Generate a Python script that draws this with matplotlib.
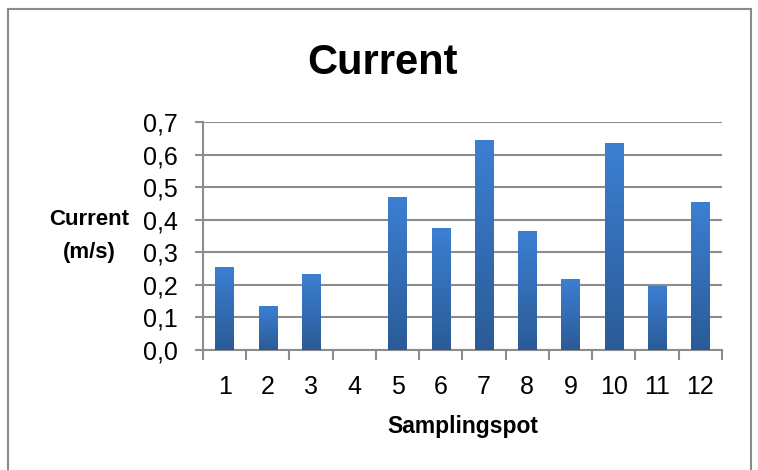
import numpy as np
import matplotlib.pyplot as plt
from matplotlib.patches import Rectangle
from matplotlib.colors import LinearSegmentedColormap
from matplotlib.ticker import FixedLocator

plt.rcParams['font.family'] = ['Liberation Sans', 'DejaVu Sans']

# ======================
# Data
# ======================

spots = [1, 2, 3, 4, 5, 6, 7, 8, 9, 10, 11, 12]
current = [0.255, 0.135, 0.234, 0.0, 0.469, 0.374, 0.644, 0.365, 0.218, 0.635, 0.198, 0.454]
yticks = [0.0, 0.1, 0.2, 0.3, 0.4, 0.5, 0.6, 0.7]
ytick_labels = ["0,0", "0,1", "0,2", "0,3", "0,4", "0,5", "0,6", "0,7"]

grid_col = "#8c8c8c"

fig = plt.figure(figsize=(7.58, 4.70), dpi=100)
ax = fig.add_axes([0.2678, 0.2553, 0.6847, 0.4851])

# bars with vertical gradient
cmap = LinearSegmentedColormap.from_list("bar", ["#2b5b97", "#3c7fd2"])
grad = np.linspace(0, 1, 256).reshape(-1, 1)
bars = ax.bar(spots, current, width=0.43, color="none", zorder=3)
for b in bars:
    h = b.get_height()
    if h <= 0:
        continue
    x0 = b.get_x()
    im = ax.imshow(grad, cmap=cmap, origin="lower", aspect="auto",
                   extent=[x0, x0 + b.get_width(), 0, h], zorder=3)
    im.set_clip_path(b)

ax.set_xlim(0.5, 12.5)
ax.set_ylim(0, 0.7)

ax.set_yticks(yticks)
ax.set_yticklabels(ytick_labels, fontsize=18)
ax.set_xticks(spots)
ax.set_xticklabels([str(s) for s in spots], fontsize=18)
ax.xaxis.set_minor_locator(FixedLocator(np.arange(0.5, 13, 1)))

ax.tick_params(axis="x", which="major", length=0, pad=18)
ax.tick_params(axis="x", which="minor", length=7, width=1.5, color=grid_col)
ax.tick_params(axis="y", length=6, width=1.5, color=grid_col, pad=12)

ax.grid(axis="y", color=grid_col, linewidth=1.5, zorder=0)
ax.set_axisbelow(True)

for s in ["top", "right"]:
    ax.spines[s].set_visible(False)
for s in ["left", "bottom"]:
    ax.spines[s].set_color(grid_col)
    ax.spines[s].set_linewidth(1.5)

# titles
fig.text(0.505, 0.866, "Current", ha="center", va="center",
         fontsize=30, fontweight="bold")
fig.text(0.118, 0.497, "Current\n(m/s)", ha="center", va="center",
         fontsize=16, fontweight="bold", linespacing=1.75)
fig.text(0.611, 0.093, "Samplingspot", ha="center", va="center",
         fontsize=16.5, fontweight="bold")

# chart border
fig.patches.append(Rectangle((0.0106, -0.02), 0.98, 1.0, transform=fig.transFigure,
                             fill=False, edgecolor="#8a8a8a", linewidth=1.5))

fig.savefig("out.png", dpi=100)
